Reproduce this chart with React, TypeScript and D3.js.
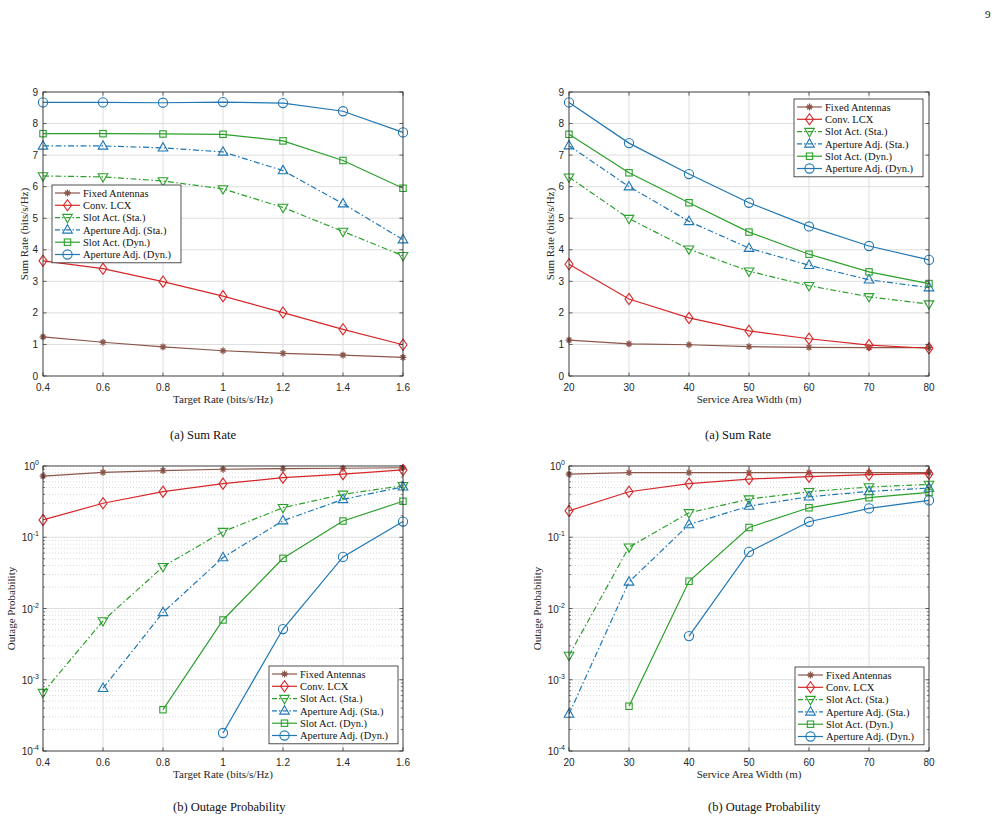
import React from 'react'
import * as d3 from 'd3'

// x values
const targetRate = [0.4, 0.6, 0.8, 1.0, 1.2, 1.4, 1.6]
const areaWidth = [20, 30, 40, 50, 60, 70, 80]

const schemeNames = [
  'Fixed Antennas',
  'Conv. LCX',
  'Slot Act. (Sta.)',
  'Aperture Adj. (Sta.)',
  'Slot Act. (Dyn.)',
  'Aperture Adj. (Dyn.)',
]

// sum rate vs target rate
const rateFixed = [1.24, 1.07, 0.92, 0.8, 0.72, 0.66, 0.59]
const rateConv = [3.65, 3.4, 2.99, 2.53, 2.01, 1.48, 0.99]
const rateSlotSta = [6.34, 6.31, 6.18, 5.93, 5.34, 4.58, 3.81]
const rateApSta = [7.29, 7.29, 7.23, 7.1, 6.51, 5.46, 4.32]
const rateSlotDyn = [7.68, 7.68, 7.67, 7.66, 7.45, 6.83, 5.95]
const rateApDyn = [8.67, 8.67, 8.66, 8.68, 8.65, 8.39, 7.72]

// sum rate vs service area width
const widthFixed = [1.14, 1.02, 0.99, 0.93, 0.91, 0.9, 0.9]
const widthConv = [3.54, 2.44, 1.84, 1.43, 1.18, 0.98, 0.88]
const widthSlotSta = [6.3, 4.99, 4.02, 3.32, 2.86, 2.51, 2.28]
const widthApSta = [7.3, 6.0, 4.9, 4.05, 3.51, 3.05, 2.8]
const widthSlotDyn = [7.66, 6.44, 5.49, 4.56, 3.86, 3.3, 2.93]
const widthApDyn = [8.67, 7.38, 6.4, 5.49, 4.74, 4.12, 3.68]

// outage probability vs target rate (null = zero outage, not plotted)
const outFixed = [0.72, 0.815, 0.86, 0.9, 0.92, 0.93, 0.945]
const outConv = [0.175, 0.3, 0.436, 0.565, 0.686, 0.77, 0.88]
const outSlotSta = [6.6e-4, 6.7e-3, 0.0386, 0.12, 0.26, 0.4, 0.53]
const outApSta = [null, 7.6e-4, 8.8e-3, 0.052, 0.171, 0.34, 0.51]
const outSlotDyn = [null, null, 3.8e-4, 6.9e-3, 0.0506, 0.169, 0.32]
const outApDyn = [null, null, null, 1.79e-4, 5.15e-3, 0.053, 0.166]

// outage probability vs service area width
const owFixed = [0.77, 0.805, 0.805, 0.805, 0.805, 0.805, 0.805]
const owConv = [0.235, 0.435, 0.564, 0.656, 0.708, 0.755, 0.78]
const owSlotSta = [2.19e-3, 0.0726, 0.22, 0.343, 0.435, 0.507, 0.552]
const owApSta = [3.3e-4, 0.0236, 0.151, 0.274, 0.37, 0.44, 0.49]
const owSlotDyn = [null, 4.25e-4, 0.0241, 0.137, 0.259, 0.359, 0.426]
const owApDyn = [null, null, 4.1e-3, 0.0623, 0.165, 0.254, 0.329]

const colors = ['#8c564b', '#d62728', '#2ca02c', '#1f77b4', '#2ca02c', '#1f77b4']
const markers = ['star', 'diamond', 'triDown', 'triUp', 'square', 'circle']
const dashes = [null, null, '6,2.5,1.5,2.5', '6,2.5,1.5,2.5', null, null]

const AX = '#262626'
const SERIF = '"Liberation Serif", "Times New Roman", serif'
const SANS = '"Liberation Sans", Arial, sans-serif'

function Marker({ type, x, y, color }) {
  const p = { fill: 'none', stroke: color, strokeWidth: 1.1 }
  if (type === 'circle') return <circle cx={x} cy={y} r={4.6} {...p} />
  if (type === 'square') return <rect x={x - 3.2} y={y - 3.2} width={6.4} height={6.4} {...p} />
  if (type === 'diamond')
    return <path d={`M${x},${y - 5.6}L${x + 4},${y}L${x},${y + 5.6}L${x - 4},${y}Z`} {...p} />
  if (type === 'triUp')
    return <path d={`M${x},${y - 5.2}L${x + 4.8},${y + 3.2}L${x - 4.8},${y + 3.2}Z`} {...p} />
  if (type === 'triDown')
    return <path d={`M${x},${y + 5.2}L${x + 4.8},${y - 3.2}L${x - 4.8},${y - 3.2}Z`} {...p} />
  // asterisk
  const r = 3.4, q = 2.4
  return (
    <path
      d={`M${x - r},${y}L${x + r},${y}M${x},${y - r}L${x},${y + r}M${x - q},${y - q}L${x + q},${y + q}M${x - q},${y + q}L${x + q},${y - q}`}
      stroke={color}
      strokeWidth={1.3}
    />
  )
}

function Panel({ box, xs, series, xLabel, yLabel, log, legend, xFmt, yLabelX }) {
  const [left, top, right, bottom] = box
  const x = d3.scaleLinear().domain([xs[0], xs[xs.length - 1]]).range([left, right])
  const y = log
    ? d3.scaleLog().domain([1e-4, 1]).range([bottom, top])
    : d3.scaleLinear().domain([0, 9]).range([bottom, top])
  const yTicks = log ? [1e-4, 1e-3, 1e-2, 1e-1, 1] : d3.range(0, 10)
  const minor = []
  if (log) {
    for (let e = -4; e < 0; e++) for (let m = 2; m <= 9; m++) minor.push(m * Math.pow(10, e))
  }
  const line = d3
    .line()
    .defined(d => d[1] != null)
    .x(d => x(d[0]))
    .y(d => y(d[1]))
  const tl = 3.6

  const [lx, ly] = legend
  const lw = 129, rowH = 12.3, lh = rowH * 6 + 4

  return (
    <g>
      <rect x={left} y={top} width={right - left} height={bottom - top} fill="#fff" />
      {minor.map((v, i) => (
        <line key={'m' + i} x1={left} x2={right} y1={y(v)} y2={y(v)} stroke="#bdbdbd" strokeWidth={0.6} strokeDasharray="1,2" />
      ))}
      {xs.map((v, i) => (
        <line key={'gx' + i} x1={x(v)} x2={x(v)} y1={top} y2={bottom} stroke="#dedede" strokeWidth={1} />
      ))}
      {yTicks.map((v, i) => (
        <line key={'gy' + i} x1={left} x2={right} y1={y(v)} y2={y(v)} stroke="#dedede" strokeWidth={1} />
      ))}

      {series.map((s, k) => (
        <g key={'s' + k}>
          <path
            d={line(xs.map((v, i) => [v, s[i]]))}
            fill="none"
            stroke={colors[k]}
            strokeWidth={1.2}
            strokeDasharray={dashes[k] || undefined}
          />
          {xs.map((v, i) =>
            s[i] == null ? null : <Marker key={i} type={markers[k]} x={x(v)} y={y(s[i])} color={colors[k]} />
          )}
        </g>
      ))}

      {/* ticks on all four sides, pointing in */}
      {xs.map((v, i) => (
        <g key={'tx' + i} stroke={AX} strokeWidth={0.7}>
          <line x1={x(v)} x2={x(v)} y1={bottom} y2={bottom - tl} />
          <line x1={x(v)} x2={x(v)} y1={top} y2={top + tl} />
        </g>
      ))}
      {yTicks.map((v, i) => (
        <g key={'ty' + i} stroke={AX} strokeWidth={0.7}>
          <line x1={left} x2={left + tl} y1={y(v)} y2={y(v)} />
          <line x1={right} x2={right - tl} y1={y(v)} y2={y(v)} />
        </g>
      ))}
      {minor.map((v, i) => (
        <g key={'tm' + i} stroke={AX} strokeWidth={0.6}>
          <line x1={left} x2={left + 2} y1={y(v)} y2={y(v)} />
          <line x1={right} x2={right - 2} y1={y(v)} y2={y(v)} />
        </g>
      ))}
      <rect x={left} y={top} width={right - left} height={bottom - top} fill="none" stroke={AX} strokeWidth={0.8} />

      {xs.map((v, i) => (
        <text key={'lx' + i} x={x(v)} y={bottom + 15} textAnchor="middle" fontFamily={SANS} fontSize={10} fill={AX}>
          {xFmt(v)}
        </text>
      ))}
      {yTicks.map((v, i) =>
        log ? (
          <text key={'ly' + i} x={left - 4} y={y(v) + 4} textAnchor="end" fontFamily={SANS} fontSize={10} fill={AX}>
            10<tspan dy={-5} fontSize={7}>{Math.round(Math.log10(v))}</tspan>
          </text>
        ) : (
          <text key={'ly' + i} x={left - 5} y={y(v) + 3.5} textAnchor="end" fontFamily={SANS} fontSize={10} fill={AX}>
            {v}
          </text>
        )
      )}
      <text x={(left + right) / 2} y={bottom + 27} textAnchor="middle" fontFamily={SERIF} fontSize={11} fill={AX}>
        {xLabel}
      </text>
      <text
        transform={`translate(${yLabelX},${(top + bottom) / 2}) rotate(-90)`}
        textAnchor="middle"
        dy="0.35em"
        fontFamily={SERIF}
        fontSize={11}
        fill={AX}
      >
        {yLabel}
      </text>

      <g>
        <rect x={lx} y={ly} width={lw} height={lh} fill="#fff" stroke={AX} strokeWidth={0.8} />
        {schemeNames.map((name, k) => {
          const cy = ly + 8 + k * rowH
          return (
            <g key={'lg' + k}>
              <line
                x1={lx + 3}
                x2={lx + 28}
                y1={cy}
                y2={cy}
                stroke={colors[k]}
                strokeWidth={1.2}
                strokeDasharray={dashes[k] ? '5,2,1.5,2' : undefined}
              />
              <Marker type={markers[k]} x={lx + 15.5} y={cy} color={colors[k]} />
              <text x={lx + 31} y={cy + 3.6} fontFamily={SERIF} fontSize={10.5} fill="#111">
                {name}
              </text>
            </g>
          )
        })}
      </g>
    </g>
  )
}

const fmtRate = v => d3.format('~g')(v)
const fmtWidth = v => String(v)

export default function App() {
  return (
    <svg
      width={998}
      height={823}
      style={{ position: 'absolute', left: 0, top: 0, background: '#fff' }}
    >
      <rect width={998} height={823} fill="#fff" />
      <text x={985} y={18} fontFamily={SERIF} fontSize={11} fill="#111">9</text>

      <Panel
        box={[43, 92, 403, 376]}
        xs={targetRate}
        series={[rateFixed, rateConv, rateSlotSta, rateApSta, rateSlotDyn, rateApDyn]}
        xLabel="Target Rate (bits/s/Hz)"
        yLabel="Sum Rate (bits/s/Hz)"
        log={false}
        legend={[52, 185]}
        xFmt={fmtRate}
        yLabelX={24}
      />
      <Panel
        box={[569, 92, 929, 376]}
        xs={areaWidth}
        series={[widthFixed, widthConv, widthSlotSta, widthApSta, widthSlotDyn, widthApDyn]}
        xLabel="Service Area Width (m)"
        yLabel="Sum Rate (bits/s/Hz)"
        log={false}
        legend={[794, 99]}
        xFmt={fmtWidth}
        yLabelX={550}
      />
      <Panel
        box={[43, 466, 403, 751]}
        xs={targetRate}
        series={[outFixed, outConv, outSlotSta, outApSta, outSlotDyn, outApDyn]}
        xLabel="Target Rate (bits/s/Hz)"
        yLabel="Outage Probability"
        log={true}
        legend={[269, 666]}
        xFmt={fmtRate}
        yLabelX={11}
      />
      <Panel
        box={[569, 466, 929, 751]}
        xs={areaWidth}
        series={[owFixed, owConv, owSlotSta, owApSta, owSlotDyn, owApDyn]}
        xLabel="Service Area Width (m)"
        yLabel="Outage Probability"
        log={true}
        legend={[795, 667]}
        xFmt={fmtWidth}
        yLabelX={537}
      />

      <text x={170} y={439} fontFamily={SERIF} fontSize={12.5} fill="#111">(a)  Sum Rate</text>
      <text x={705} y={439} fontFamily={SERIF} fontSize={12.5} fill="#111">(a)  Sum Rate</text>
      <text x={173} y={811} fontFamily={SERIF} fontSize={12.5} fill="#111">(b)  Outage Probability</text>
      <text x={708} y={811} fontFamily={SERIF} fontSize={12.5} fill="#111">(b)  Outage Probability</text>
    </svg>
  )
}
